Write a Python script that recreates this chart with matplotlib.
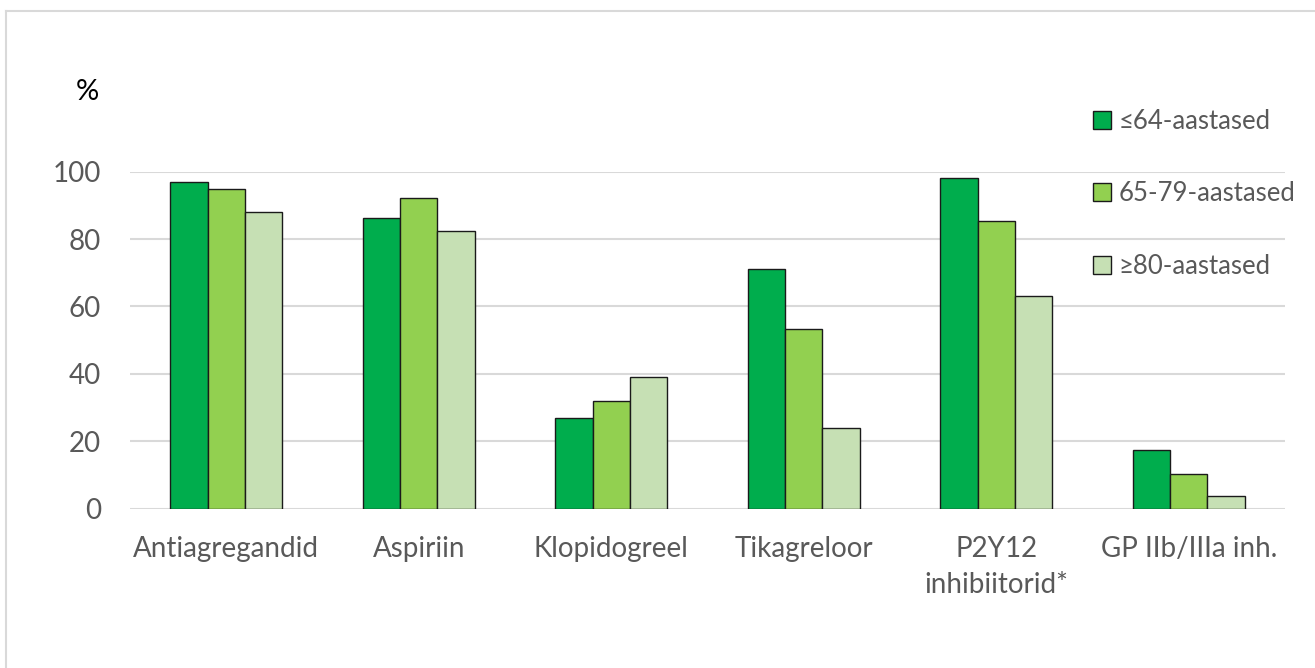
import matplotlib
matplotlib.use("Agg")
import matplotlib.pyplot as plt
import numpy as np
from matplotlib.lines import Line2D

# data
categories = ["Antiagregandid", "Aspiriin", "Klopidogreel", "Tikagreloor",
              "P2Y12\ninhibiitorid*", "GP IIb/IIIa inh."]
series_names = ["≤64-aastased", "65-79-aastased", "≥80-aastased"]
age_le64 = [97.0, 86.3, 26.8, 71.1, 98.0, 17.3]
age_65_79 = [95.0, 92.3, 32.0, 53.2, 85.4, 10.3]
age_ge80 = [88.1, 82.3, 39.0, 24.0, 63.0, 3.9]
yticks = [0, 20, 40, 60, 80, 100]

colors = ["#00AD4D", "#92D050", "#C6E0B4"]

plt.rcParams['font.family'] = ['Lato', 'DejaVu Sans']

W, H = 1315, 668
fig = plt.figure(figsize=(W / 100, H / 100), dpi=100)

# light grey frame lines (top and left only, as in the reference)
fig.add_artist(Line2D([5.5 / W, 1], [1 - 10.5 / H, 1 - 10.5 / H],
                      color="#D9D9D9", linewidth=1.5))
fig.add_artist(Line2D([5.5 / W, 5.5 / W], [0, 1 - 10.5 / H],
                      color="#D9D9D9", linewidth=1.5))

ax = fig.add_axes([130 / W, 1 - 508.7 / H, 1155 / W, 337 / H])

x = np.arange(len(categories))
bw = 0.194
for i, vals in enumerate([age_le64, age_65_79, age_ge80]):
    ax.bar(x + (i - 1) * bw, vals, width=bw, color=colors[i],
           edgecolor="#1a1a1a", linewidth=1.0, label=series_names[i], zorder=3)

ax.set_xlim(-0.5, len(categories) - 0.5)
ax.set_ylim(0, 100)
ax.set_yticks(yticks)
ax.set_xticks(x)
ax.set_xticklabels(categories, fontsize=20, color="#595959", linespacing=1.45)
ax.tick_params(axis="y", length=0, pad=21, labelsize=20, labelcolor="#595959")
ax.tick_params(axis="x", length=0, pad=20)
ax.yaxis.grid(True, color="#D9D9D9", linewidth=1.5, zorder=0)
ax.set_axisbelow(True)
for s in ax.spines.values():
    s.set_visible(False)

fig.text(87 / W, 1 - 92 / H, "%", fontsize=21, color="black",
         ha="center", va="center")

leg = ax.legend(loc="upper left", bbox_to_anchor=(1080 / W, 1 - 96 / H),
                bbox_transform=fig.transFigure, frameon=False, fontsize=18.5,
                handlelength=0.7, handleheight=0.7, handletextpad=0.3,
                labelspacing=1.85, borderpad=0)
for t in leg.get_texts():
    t.set_color("#595959")

fig.savefig("out.png", dpi=100)
